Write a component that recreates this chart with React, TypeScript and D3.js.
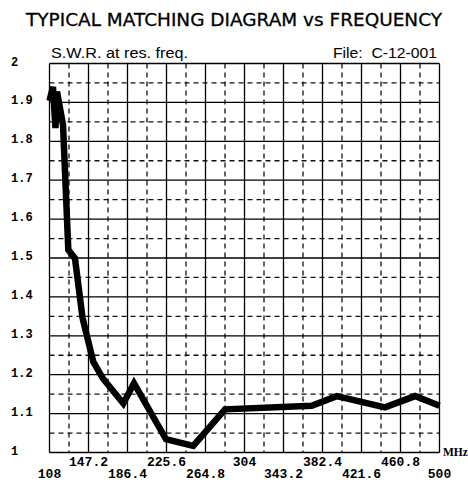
import React, { useEffect, useRef } from 'react';
import * as d3 from 'd3';

// values
const freqs = [108, 111.5, 114, 115.5, 121.6, 126.9, 133.6, 141.2, 152, 161.5, 182.2, 192.9, 225.1, 252.5, 284.4, 371.5, 396.7, 445.2, 475.4, 500];
const swr = [1.904, 1.94, 1.834, 1.928, 1.842, 1.521, 1.499, 1.346, 1.233, 1.191, 1.126, 1.178, 1.034, 1.017, 1.111, 1.12, 1.145, 1.116, 1.145, 1.12];

const xTicks = [108, 147.2, 186.4, 225.6, 264.8, 304, 343.2, 382.4, 421.6, 460.8, 500];
const yTicks = [1, 1.1, 1.2, 1.3, 1.4, 1.5, 1.6, 1.7, 1.8, 1.9, 2];

const title = 'TYPICAL MATCHING DIAGRAM vs FREQUENCY';
const subtitle = 'S.W.R. at res. freq.';
const fileLabel = 'File:  C-12-001';
const unitLabel = 'MHz';

export default function App() {
  const svgRef = useRef<SVGSVGElement>(null);

  useEffect(() => {
    if (!svgRef.current) return;
    const svg = d3.select(svgRef.current);
    svg.selectAll('*').remove();

    const margin = { top: 63.5, right: 28.5, bottom: 29.5, left: 49.5 };
    const W = 468;
    const H = 482;

    const x = d3.scaleLinear().domain([108, 500]).range([margin.left, W - margin.right]);
    const y = d3.scaleLinear().domain([1, 2]).range([H - margin.bottom, margin.top]);

    svg.append('rect').attr('width', W).attr('height', H).attr('fill', '#fff');

    // title + header texts
    svg.append('text')
      .attr('x', 234)
      .attr('y', 26)
      .attr('text-anchor', 'middle')
      .attr('font-family', '"DejaVu Sans", sans-serif')
      .attr('font-size', 18)
      .attr('textLength', 416)
      .attr('lengthAdjust', 'spacingAndGlyphs')
      .attr('fill', '#000')
      .attr('stroke', '#000')
      .attr('stroke-width', 0.3)
      .text(title);

    const headFont = '"Liberation Sans", Arial, sans-serif';

    svg.append('text')
      .attr('x', 51)
      .attr('y', 57.5)
      .attr('font-family', headFont)
      .attr('font-size', 14)
      .attr('textLength', 137)
      .attr('lengthAdjust', 'spacingAndGlyphs')
      .attr('fill', '#000')
      .text(subtitle);

    svg.append('text')
      .attr('x', 437)
      .attr('y', 57.5)
      .attr('text-anchor', 'end')
      .attr('font-family', headFont)
      .attr('font-size', 14)
      .attr('textLength', 104)
      .attr('lengthAdjust', 'spacingAndGlyphs')
      .attr('fill', '#000')
      .style('white-space', 'pre')
      .text(fileLabel);

    const grid = svg.append('g');
    const [x0, x1] = x.range();
    const [y0, y1] = y.range();

    // dashed minor grid at half steps
    const xMid = d3.pairs(xTicks).map(([a, b]) => (a + b) / 2);
    const yMid = d3.pairs(yTicks).map(([a, b]) => (a + b) / 2);

    grid.selectAll('line.xm')
      .data(xMid)
      .join('line')
      .attr('x1', (d) => x(d)).attr('x2', (d) => x(d))
      .attr('y1', y1).attr('y2', y0)
      .attr('stroke', '#111')
      .attr('stroke-width', 1.3)
      .attr('stroke-dasharray', '5,4');

    grid.selectAll('line.ym')
      .data(yMid)
      .join('line')
      .attr('y1', (d) => y(d)).attr('y2', (d) => y(d))
      .attr('x1', x0).attr('x2', x1)
      .attr('stroke', '#111')
      .attr('stroke-width', 1.3)
      .attr('stroke-dasharray', '5,4');

    // solid major grid
    grid.selectAll('line.xM')
      .data(xTicks)
      .join('line')
      .attr('x1', (d) => x(d)).attr('x2', (d) => x(d))
      .attr('y1', y1).attr('y2', y0)
      .attr('stroke', '#000')
      .attr('stroke-width', 1.3);

    grid.selectAll('line.yM')
      .data(yTicks)
      .join('line')
      .attr('y1', (d) => y(d)).attr('y2', (d) => y(d))
      .attr('x1', x0).attr('x2', x1)
      .attr('stroke', '#000')
      .attr('stroke-width', 1.3);

    // y labels
    svg.append('g')
      .selectAll('text')
      .data(yTicks)
      .join('text')
      .attr('x', 11)
      .attr('y', (d) => y(d) + 2)
      .attr('font-family', '"Liberation Mono", "Courier New", monospace')
      .attr('font-weight', 'bold')
      .attr('font-size', 12)
      .attr('fill', '#000')
      .text((d) => d3.format('~g')(d));

    // x labels, staggered on two rows
    svg.append('g')
      .selectAll('text')
      .data(xTicks)
      .join('text')
      .attr('x', (d) => x(d))
      .attr('y', (d, i) => (i % 2 === 0 ? 478 : 466))
      .attr('text-anchor', 'middle')
      .attr('font-family', '"Liberation Mono", "Courier New", monospace')
      .attr('font-weight', 'bold')
      .attr('font-size', 13)
      .attr('fill', '#000')
      .text((d) => String(d));

    svg.append('text')
      .attr('x', 443)
      .attr('y', 456)
      .attr('font-family', '"Liberation Serif", "Times New Roman", serif')
      .attr('font-weight', 'bold')
      .attr('font-size', 11.5)
      .attr('fill', '#000')
      .text(unitLabel);

    // curve
    const line = d3.line<number>()
      .x((_, i) => x(freqs[i]))
      .y((d) => y(d));

    svg.append('path')
      .datum(swr)
      .attr('d', line)
      .attr('fill', 'none')
      .attr('stroke', '#000')
      .attr('stroke-width', 6.5)
      .attr('stroke-linejoin', 'miter')
      .attr('stroke-miterlimit', 6);
  }, []);

  return (
    <svg
      ref={svgRef}
      width={468}
      height={482}
      style={{ position: 'absolute', left: 0, top: 0, display: 'block' }}
    />
  );
}
